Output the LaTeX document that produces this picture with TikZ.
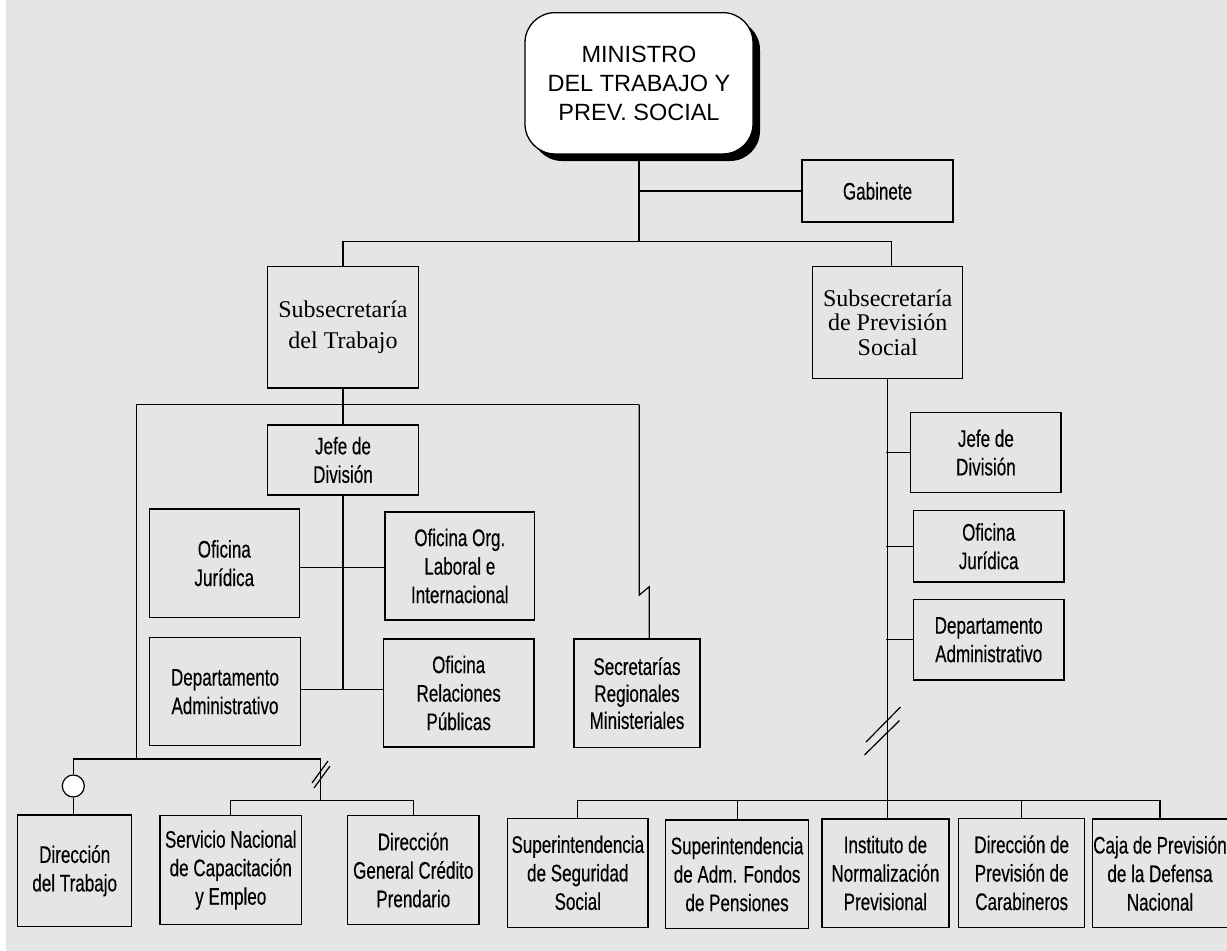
\documentclass[tikz,border=0pt]{standalone}
\usepackage{fontspec}
\setmainfont{Liberation Serif}
\newfontfamily\condfont[FakeStretch=0.71,FakeBold=0.3]{Liberation Sans}
\newfontfamily\arialfont{Liberation Sans}
\definecolor{bg}{RGB}{229,229,229}
\begin{document}
\begin{tikzpicture}[x=1pt,y=-1pt,
  line width=1.2pt,
  box/.style={draw, line width=1.3pt, inner sep=0pt, align=center,
    font=\condfont\fontsize{24}{28.5}\selectfont},
  serifbox/.style={draw, line width=1.3pt, inner sep=0pt, align=center},
  minbox/.style={draw, line width=1.3pt, fill=white, rounded corners=30pt, inner sep=0pt,
    align=center, font=\arialfont\fontsize{23.5}{29}\selectfont}]
\useasboundingbox (0,0) rectangle (1227,951);
\clip (0,0) rectangle (1227,951);
\fill[white] (0,0) rectangle (1227,951);
\fill[bg] (6,0) rectangle (1227,951);

% shadow of the minister box
\fill[black, rounded corners=30pt] (532,19.7) rectangle (760,161);
\node[minbox, minimum width=228, minimum height=141.3] (min) at (639,83.3)
  {MINISTRO\\DEL TRABAJO Y\\PREV. SOCIAL};

\node[box, minimum width=151, minimum height=62] (gab) at (877.5,191) {Gabinete};

\node[serifbox, minimum width=150.7, minimum height=121.5,
  font=\fontsize{24}{31}\selectfont] (subT) at (343,327.1) {Subsecretaría\\del Trabajo};
\node[serifbox, minimum width=150, minimum height=111.6,
  font=\fontsize{24}{24.5}\selectfont] (subP) at (887.7,322.5) {Subsecretaría\\de Previsión\\Social};

\node[box, minimum width=150.7, minimum height=70] (jefeL) at (343,460) {Jefe de\\División};
\node[box, minimum width=150, minimum height=108.3] (ojL) at (224.3,563.2) {Oficina\\Jurídica};
\node[box, minimum width=149.7, minimum height=108] (oorg) at (459.8,566) {Oficina Org.\\Laboral e\\Internacional};
\node[box, minimum width=151.4, minimum height=108] (daL) at (225,691.7) {Departamento\\Administrativo};
\node[box, minimum width=150.7, minimum height=108] (orp) at (458.7,693) {Oficina\\Relaciones\\Públicas};
\node[box, minimum width=126, minimum height=108.3, font=\condfont\fontsize{24}{27}\selectfont]
  (sec) at (637,693.2) {Secretarías\\Regionales\\Ministeriales};

\node[box, minimum width=150.3, minimum height=80.4] (jefeR) at (985.9,452.5) {Jefe de\\División};
\node[box, minimum width=150.7, minimum height=71.3] (ojR) at (988.7,546.3) {Oficina\\Jurídica};
\node[box, minimum width=150.7, minimum height=80.3] (daR) at (988.7,639.8) {Departamento\\Administrativo};

\node[box, minimum width=114, minimum height=111.7] (dt) at (74.7,870.8) {Dirección\\del Trabajo};
\node[box, minimum width=141.7, minimum height=108.6] (sn) at (230.8,870) {Servicio Nacional\\de Capacitación\\y Empleo};
\node[box, minimum width=131.3, minimum height=108.6] (dg) at (413.3,870) {Dirección\\General Crédito\\Prendario};

\node[box, minimum width=140.5, minimum height=109] (b1) at (577.8,872.8) {Superintendencia\\de Seguridad\\Social};
\node[box, minimum width=142.9, minimum height=108.3] (b2) at (737.1,874.1) {Superintendencia\\de Adm. Fondos\\de Pensiones};
\node[box, minimum width=127.1, minimum height=108.3] (b3) at (885.4,873.1) {Instituto de\\Normalización\\Previsional};
\node[box, minimum width=126.2, minimum height=109] (b4) at (1021.7,872.8) {Dirección de\\Previsión de\\Carabineros};
\node[box, minimum width=135, minimum height=108.7] (b5) at (1160,873.3) {Caja de Previsión\\de la Defensa\\Nacional};

% top connectors
\coordinate (j1) at (639,241.7);
\coordinate (pT) at ([xshift=4pt]subP.north);
\draw (min.south) -- (j1);
\draw (min.south |- gab.west) -- (gab.west);
\draw (subT.north) |- (j1) -| (pT);

% left branch
\coordinate (l1) at (136.4,404.6);
\coordinate (r1) at (639.3,404.6);
\coordinate (l2) at (136.4,759);
\coordinate (k1) at (639.3,595);
\coordinate (k2) at (649.3,586.7);
\draw (subT.south) -- (jefeL.north);
\draw (l1) -- (r1);
\draw (l1) -- (l2);
\draw (r1) -- (k1) -- (k2) -- (k2 |- sec.north);

\coordinate (m1) at (343,567.3);
\coordinate (m2) at (343,689.3);
\draw (jefeL.south) -- (m2);
\draw (ojL.east |- m1) -- (oorg.west |- m1);
\draw (daL.east |- m2) -- (orp.west |- m2);

% bottom left
\node[draw, circle, fill=white, minimum size=22, inner sep=0pt, line width=1.2pt] (circ) at (73.3,786) {};
\coordinate (l3) at (320.7,759);
\coordinate (l4) at (320.7,800.7);
\draw (circ.north) -- (circ.north |- l2) -- (l3) -- (l4);
\draw (circ.south) -- (circ.south |- dt.north);
\draw (sn.north) |- (l4) -| (dg.north);
\draw (312,783) -- (328,761);
\draw (314,788) -- (330,766);

% right branch
\coordinate (rb) at (888,800.7);
\coordinate (tk) at (886,0);
\draw (subP.south) -- (subP.south |- b3.north);
\draw (jefeR.west) -- (jefeR.west -| tk);
\draw (ojR.west) -- (ojR.west -| tk);
\draw (daR.west) -- (daR.west -| tk);
\draw (900.5,707) -- (866,742);
\draw (899.5,720.5) -- (864.5,755);
\draw (b1.north) |- (rb) -| (b5.north);
\draw (b2.north) -- (b2.north |- rb);
\draw (b4.north) -- (b4.north |- rb);
\end{tikzpicture}
\end{document}
